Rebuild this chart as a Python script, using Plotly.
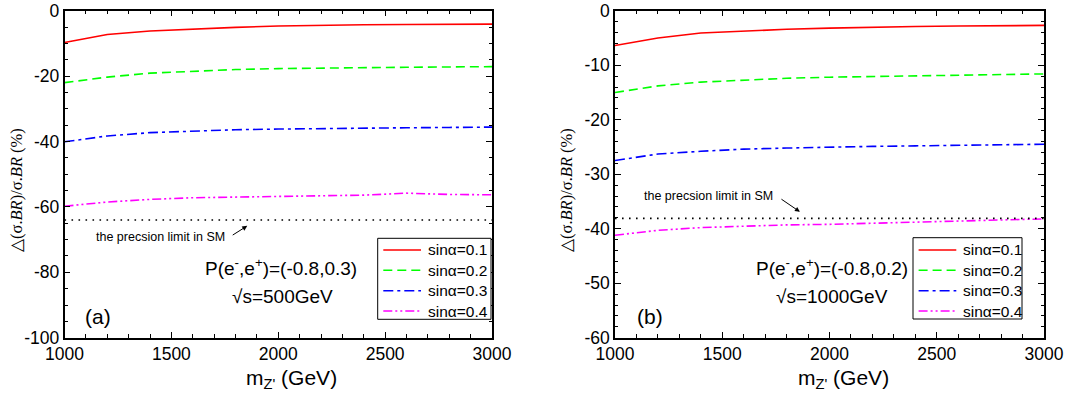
import plotly.graph_objects as go

mz = [1000, 1200, 1400, 1600, 1800, 2000, 2200, 2400, 2600, 2800, 3000]
labels = ["sinα=0.1", "sinα=0.2", "sinα=0.3", "sinα=0.4"]
xtick_vals = [1000, 1500, 2000, 2500, 3000]
xtick_text = ["1000", "1500", "2000", "2500", "3000"]

# panel (a): sqrt(s)=500 GeV, P=(-0.8,0.3)
a_s01 = [-9.7, -7.3, -6.2, -5.6, -5.1, -4.7, -4.4, -4.3, -4.2, -4.1, -4.1]
a_s02 = [-22.0, -20.3, -19.1, -18.5, -18.0, -17.7, -17.5, -17.4, -17.3, -17.2, -17.1]
a_s03 = [-40.1, -38.3, -37.3, -36.8, -36.4, -36.2, -36.0, -35.9, -35.8, -35.7, -35.6]
a_s04 = [-59.8, -58.5, -57.7, -57.2, -57.0, -56.8, -56.6, -56.4, -55.8, -56.2, -56.3]
a_sm_limit = -64.0
a_ytick_vals = [0, -20, -40, -60, -80, -100]
a_ytick_text = ["0", "-20", "-40", "-60", "-80", "-100"]

# panel (b): sqrt(s)=1000 GeV, P=(-0.8,0.2)
b_s01 = [-6.4, -5.0, -4.1, -3.7, -3.4, -3.2, -3.0, -2.9, -2.8, -2.8, -2.7]
b_s02 = [-15.0, -13.8, -13.1, -12.7, -12.4, -12.2, -12.1, -12.0, -11.9, -11.7, -11.6]
b_s03 = [-27.5, -26.3, -25.8, -25.4, -25.2, -25.0, -24.9, -24.8, -24.7, -24.6, -24.5]
b_s04 = [-41.2, -40.3, -39.8, -39.5, -39.3, -39.2, -39.0, -38.9, -38.7, -38.5, -38.2]
b_sm_limit = -38.1
b_ytick_vals = [0, -10, -20, -30, -40, -50, -60]
b_ytick_text = ["0", "-10", "-20", "-30", "-40", "-50", "-60"]

colors = ["#FF0000", "#00FF00", "#0000FF", "#FF00FF"]
dashes = ["solid", "9px,5px", "10px,4px,3px,4px", "9px,3px,2px,3px,2px,3px"]

W, H = 1089, 402


def px(x):
    return x / W


def py(y):
    return 1 - y / H


fig = go.Figure()

panels = [
    ([a_s01, a_s02, a_s03, a_s04], a_sm_limit, "x", "y"),
    ([b_s01, b_s02, b_s03, b_s04], b_sm_limit, "x2", "y2"),
]
for series, lim, xa, ya in panels:
    for vals, lab, c, d in zip(series, labels, colors, dashes):
        fig.add_trace(go.Scatter(x=mz, y=vals, mode="lines", name=lab,
                                 line=dict(color=c, width=1.6, dash=d),
                                 xaxis=xa, yaxis=ya, showlegend=False))
    fig.add_trace(go.Scatter(x=[mz[0], mz[-1]], y=[lim, lim], mode="lines",
                             name="precision limit in SM",
                             line=dict(color="black", width=1.6, dash="1.6px,5.4px"),
                             xaxis=xa, yaxis=ya, showlegend=False))

SANS = "Liberation Sans, Arial, sans-serif"
tickfont = dict(family=SANS, size=17.5, color="black")

common_x = dict(range=[1000, 3000], tickvals=xtick_vals, ticktext=xtick_text,
                ticks="inside", ticklen=6, tickwidth=1.2, tickcolor="black",
                minor=dict(dtick=100, ticks="inside", ticklen=3.5, tickwidth=1.2, tickcolor="black"),
                showline=True, linecolor="black", linewidth=1.5, mirror="allticks",
                showgrid=False, zeroline=False, tickfont=tickfont, automargin=False)
common_y = dict(ticks="inside", ticklen=6, tickwidth=1.2, tickcolor="black",
                showline=True, linecolor="black", linewidth=1.5, mirror="allticks",
                showgrid=False, zeroline=False, tickfont=tickfont, automargin=False)

fig.update_layout(
    width=W, height=H,
    margin=dict(l=0, r=0, t=0, b=0, autoexpand=False),
    paper_bgcolor="white", plot_bgcolor="white",
    showlegend=False,
    xaxis=dict(domain=[px(64.5), px(492)], anchor="y", **common_x),
    yaxis=dict(domain=[py(337.7), py(10.7)], anchor="x", range=[-100, 0],
               tickvals=a_ytick_vals, ticktext=a_ytick_text,
               minor=dict(dtick=5, ticks="inside", ticklen=3.5, tickwidth=1.2, tickcolor="black"),
               **common_y),
    xaxis2=dict(domain=[px(615), px(1044)], anchor="y2", **common_x),
    yaxis2=dict(domain=[py(337.7), py(10.7)], anchor="x2", range=[-60, 0],
                tickvals=b_ytick_vals, ticktext=b_ytick_text,
                minor=dict(dtick=2, ticks="inside", ticklen=3.5, tickwidth=1.2, tickcolor="black"),
                **common_y),
)

# legend boxes (drawn as shapes + text so that row spacing matches)
legend_font = dict(family=SANS, size=15.5, color="black")
row_y = [250, 270.3, 290.7, 311]
shapes = []
leg_ann = []
for (bx0, bx1, by0, by1, sx0, sx1, tx) in [
    (377.7, 491, 238.3, 319.3, 383.3, 421, 425.7),
    (913, 1022, 237.7, 319, 918.6, 956.3, 961),
]:
    shapes.append(dict(type="rect", xref="paper", yref="paper",
                       x0=px(bx0), x1=px(bx1), y0=py(by1), y1=py(by0),
                       line=dict(color="black", width=1), fillcolor="white", layer="above"))
    for ry, lab, c, d in zip(row_y, labels, colors, dashes):
        shapes.append(dict(type="line", xref="paper", yref="paper",
                           x0=px(sx0), x1=px(sx1), y0=py(ry), y1=py(ry),
                           line=dict(color=c, width=1.6, dash=d), layer="above"))
        leg_ann.append(dict(x=px(tx), y=py(ry), xref="paper", yref="paper", text=lab,
                            xanchor="left", yanchor="middle", showarrow=False, font=legend_font))

txtfont = dict(family=SANS, size=19, color="black")
smallfont = dict(family=SANS, size=12.5, color="black")
labfont = dict(family=SANS, size=21, color="black")
xtitle_font = dict(family=SANS, size=21, color="black")
ytitle_font = dict(family="Liberation Serif, Times New Roman, serif", size=16.5, color="black")
xtitle = "m<sub>Z'</sub> (GeV)"
ytitle = "△(σ.<i>BR</i>)/σ.<i>BR</i> (%)"

C = dict(xanchor="center", yanchor="middle", showarrow=False)
ann = [
    # panel a
    dict(x=1447, y=-69.2, xref="x", yref="y", text="the precsion limit in SM", font=smallfont, **C),
    dict(x=1855, y=-65.8, ax=1780, ay=-68.9, xref="x", yref="y", axref="x", ayref="y",
         text="", showarrow=True, arrowhead=2, arrowsize=1, arrowwidth=1, arrowcolor="black"),
    dict(x=2014, y=-78.3, xref="x", yref="y", text="P(e<sup>-</sup>,e<sup>+</sup>)=(-0.8,0.3)",
         font=txtfont, **C),
    dict(x=2019, y=-87.5, xref="x", yref="y", text="√s=500GeV", font=txtfont, **C),
    dict(x=1157, y=-93.6, xref="x", yref="y", text="(a)", font=labfont, **C),
    dict(x=px(291), y=py(379), xref="paper", yref="paper", text=xtitle, font=xtitle_font, **C),
    dict(x=px(17), y=py(190), xref="paper", yref="paper", text=ytitle,
         textangle=-90, font=ytitle_font, **C),
    # panel b
    dict(x=1438, y=-34.0, xref="x2", yref="y2", text="the precsion limit in SM", font=smallfont, **C),
    dict(x=1862, y=-36.9, ax=1769, ay=-34.4, xref="x2", yref="y2", axref="x2", ayref="y2",
         text="", showarrow=True, arrowhead=2, arrowsize=1, arrowwidth=1, arrowcolor="black"),
    dict(x=2012, y=-47.0, xref="x2", yref="y2", text="P(e<sup>-</sup>,e<sup>+</sup>)=(-0.8,0.2)",
         font=txtfont, **C),
    dict(x=2012, y=-52.5, xref="x2", yref="y2", text="√s=1000GeV", font=txtfont, **C),
    dict(x=1163, y=-56.2, xref="x2", yref="y2", text="(b)", font=labfont, **C),
    dict(x=px(843), y=py(379), xref="paper", yref="paper", text=xtitle, font=xtitle_font, **C),
    dict(x=px(567), y=py(190), xref="paper", yref="paper", text=ytitle,
         textangle=-90, font=ytitle_font, **C),
]
fig.update_layout(annotations=ann + leg_ann, shapes=shapes)

fig.write_html("out.html", config={"displayModeBar": False},
               post_script="document.body.style.margin='0';document.body.style.overflow='hidden';")
